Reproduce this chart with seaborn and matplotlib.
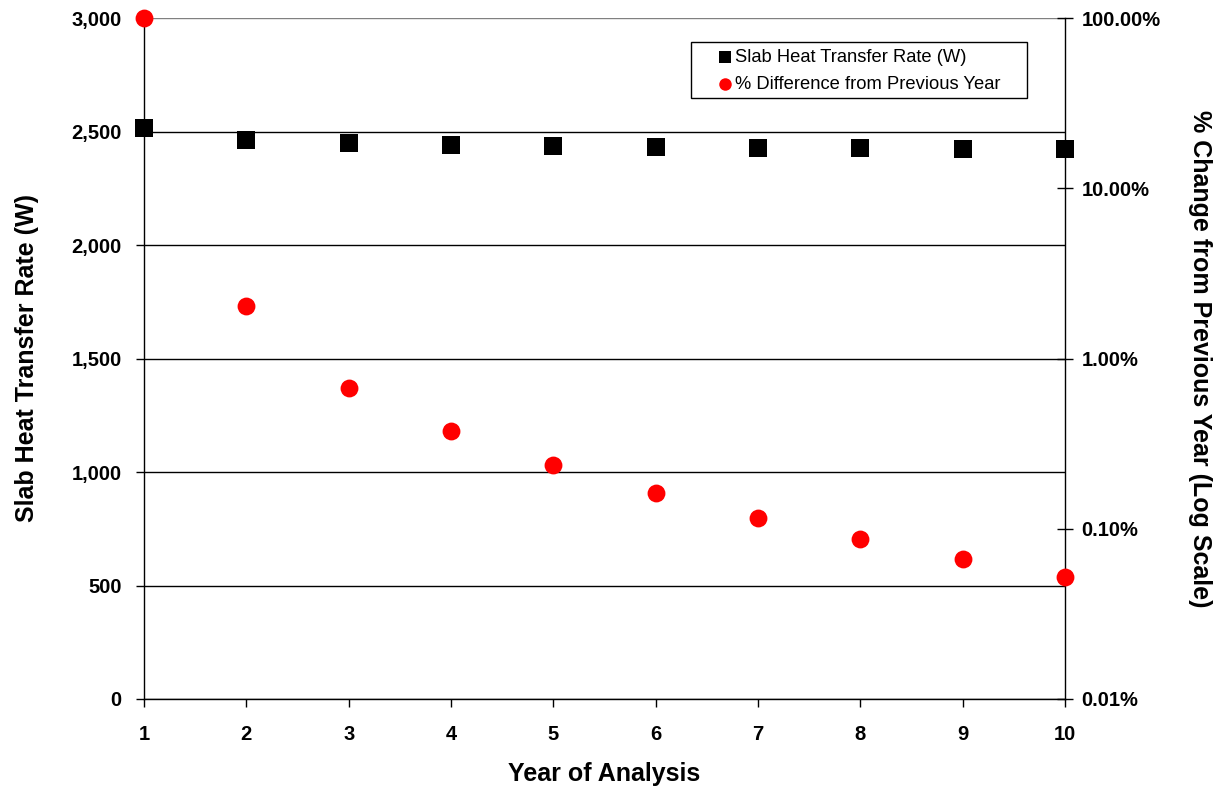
import matplotlib
matplotlib.use("Agg")
import matplotlib.pyplot as plt
import seaborn as sns
import pandas as pd
from matplotlib.ticker import FuncFormatter, FixedLocator, NullLocator
from matplotlib.patches import Rectangle

years = [1, 2, 3, 4, 5, 6, 7, 8, 9, 10]
heat_rate_w = [2515, 2463, 2449, 2441, 2436, 2432, 2428, 2426, 2424, 2423]
pct_diff = [1.0, 0.0203, 0.00671, 0.00375, 0.00237, 0.00162, 0.00116, 0.000871, 0.000664, 0.000521]
left_ticks = [0, 500, 1000, 1500, 2000, 2500, 3000]
right_ticks = [0.0001, 0.001, 0.01, 0.1, 1.0]

sns.set_theme(style="white")
plt.rcParams['font.family'] = ['Liberation Sans', 'DejaVu Sans']
plt.rcParams['text.color'] = 'black'
plt.rcParams['axes.labelcolor'] = 'black'
plt.rcParams['xtick.color'] = 'black'
plt.rcParams['ytick.color'] = 'black'

df = pd.DataFrame({"year": years, "rate": heat_rate_w, "pct": pct_diff})

fig = plt.figure(figsize=(12.19, 7.87), dpi=100)
ax = fig.add_axes([144/1219, 1-699/787, (1065-144)/1219, (699-18)/787])
ax2 = ax.twinx()

sns.scatterplot(data=df, x="year", y="rate", ax=ax, marker="s", s=160,
                color="black", edgecolor="black", linewidth=0, clip_on=False,
                zorder=5, label="Slab Heat Transfer Rate (W)", legend=False)
sns.scatterplot(data=df, x="year", y="pct", ax=ax2, marker="o", s=165,
                color="#ff0000", edgecolor="#ff0000", linewidth=0, clip_on=False,
                zorder=5, label="% Difference from Previous Year", legend=False)

ax.set_xlim(1, 10)
ax.set_ylim(0, 3000)
ax.set_xticks(years)
ax.set_yticks(left_ticks)
ax.yaxis.set_major_formatter(FuncFormatter(lambda v, p: f"{int(v):,}"))
ax.grid(axis="y", color="black", linewidth=1)
ax.grid(axis="x", visible=False)
ax.set_axisbelow(True)
gl = ax.yaxis.get_gridlines()
gl[-1].set_color("#808080")

ax2.set_yscale("log")
ax2.set_ylim(0.0001, 1.0)
ax2.yaxis.set_major_locator(FixedLocator(right_ticks))
ax2.yaxis.set_minor_locator(NullLocator())
ax2.yaxis.set_major_formatter(FuncFormatter(lambda v, p: f"{v*100:.2f}%"))

for a in (ax, ax2):
    for s in a.spines.values():
        s.set_color("black")
        s.set_linewidth(1)
    a.spines["top"].set_visible(False)
ax2.spines["left"].set_visible(False)
ax2.spines["bottom"].set_visible(False)
ax.spines["right"].set_visible(False)

ax.tick_params(axis="x", direction="out", length=6, width=1, color="black",
               labelsize=14.5, pad=13, bottom=True)
ax.tick_params(axis="y", direction="out", length=6, width=1, color="black",
               labelsize=14.5, pad=10, left=True)
ax2.tick_params(axis="y", direction="inout", length=12, width=1, color="black",
                labelsize=14.5, pad=6, right=True)
for lab in ax.get_xticklabels() + ax.get_yticklabels() + ax2.get_yticklabels():
    lab.set_fontweight("bold")

ax.set_xlabel("Year of Analysis", fontsize=18, fontweight="bold", labelpad=13)
ax.set_ylabel("Slab Heat Transfer Rate (W)", fontsize=18, fontweight="bold", labelpad=23)
ax2.set_ylabel("% Change from Previous Year (Log Scale)", fontsize=18, fontweight="bold",
               rotation=270, labelpad=37)

h1, l1 = ax.get_legend_handles_labels()
h2, l2 = ax2.get_legend_handles_labels()
leg = ax2.legend(h1 + h2, l1 + l2, loc="upper left",
                 bbox_to_anchor=((714-144)/921, 1-(45-18)/681),
                 frameon=False, fontsize=13.2,
                 markerscale=0.7, handletextpad=0.15, handlelength=0.8,
                 borderpad=0.2, labelspacing=0.55, borderaxespad=0)
leg.set_zorder(10)

# legend frame (wider horizontal padding as in the reference)
frame = Rectangle((691/1219, 1-98/787), (1027-691)/1219, (98-42)/787,
                  transform=fig.transFigure, facecolor="white", edgecolor="black",
                  linewidth=1, zorder=9)
ax2.add_artist(frame)
frame.set_clip_on(False)

fig.savefig("out.png", dpi=100)
